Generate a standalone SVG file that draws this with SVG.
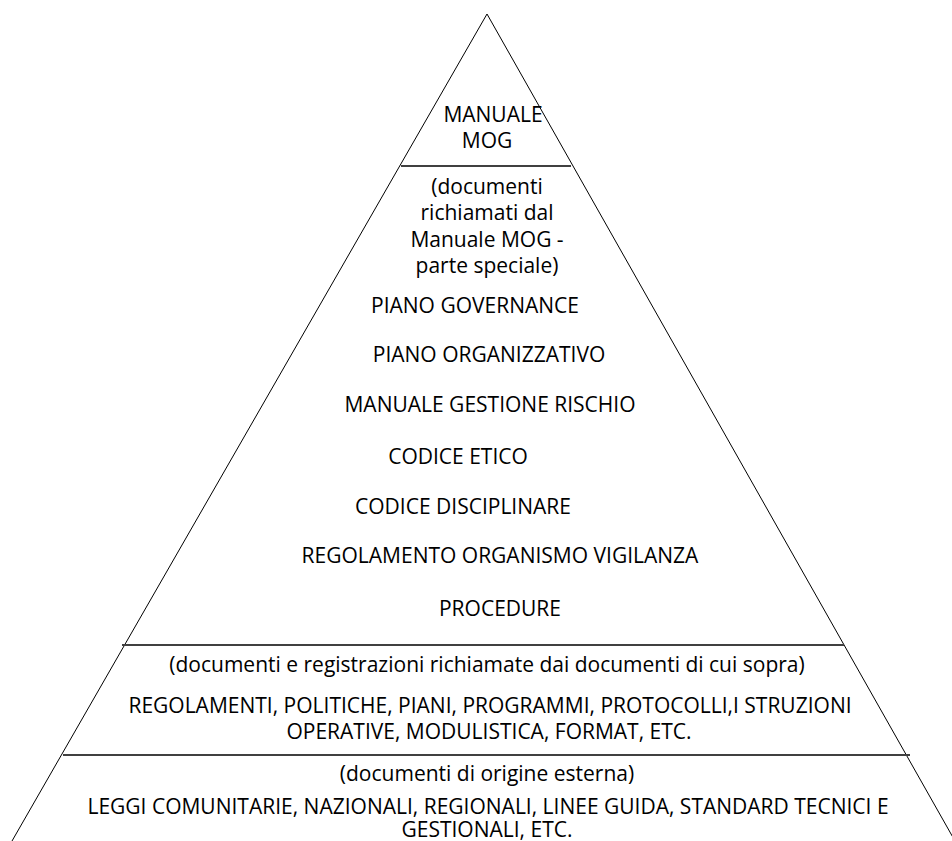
<svg xmlns="http://www.w3.org/2000/svg" width="952" height="841" viewBox="0 0 952 841">
  <style>
    .side { stroke: #000; stroke-width: 1; fill: none; }
    .tier { stroke: #404040; stroke-width: 2; fill: none; }
    text { font-family: "Open Sans", "Liberation Sans", sans-serif; font-size: 21px; fill: #000; text-anchor: middle; }
  </style>
  <rect width="952" height="841" fill="#fff"/>

  <!-- pyramid outline and tier separators -->
  <g id="connectors">
    <line class="side" x1="487" y1="14" x2="12" y2="841"/>
    <line class="side" x1="487" y1="14" x2="955" y2="841"/>
    <line class="tier" x1="401" y1="166" x2="571" y2="166"/>
    <line class="tier" x1="122" y1="645" x2="844" y2="645"/>
    <line class="tier" x1="63" y1="755" x2="910" y2="755"/>
  </g>

  <!-- tier 1: top -->
  <g id="tier-manuale">
    <text x="493" y="122">MANUALE</text>
    <text x="487" y="148">MOG</text>
  </g>

  <!-- tier 2: documents referenced by the manual -->
  <g id="tier-documenti">
    <text x="487" y="194">(documenti</text>
    <text x="487" y="220">richiamati dal</text>
    <text x="487" y="247">Manuale MOG -</text>
    <text x="487" y="273">parte speciale)</text>
    <text x="475" y="313">PIANO GOVERNANCE</text>
    <text x="489" y="362">PIANO ORGANIZZATIVO</text>
    <text x="490" y="412">MANUALE GESTIONE RISCHIO</text>
    <text x="458" y="464">CODICE ETICO</text>
    <text x="463" y="514">CODICE DISCIPLINARE</text>
    <text x="500" y="563">REGOLAMENTO ORGANISMO VIGILANZA</text>
    <text x="500" y="616">PROCEDURE</text>
  </g>

  <!-- tier 3: records and operating documents -->
  <g id="tier-registrazioni">
    <text x="487" y="672">(documenti e registrazioni richiamate dai documenti di cui sopra)</text>
    <text x="490" y="713">REGOLAMENTI, POLITICHE, PIANI, PROGRAMMI, PROTOCOLLI,I STRUZIONI</text>
    <text x="489" y="739">OPERATIVE, MODULISTICA, FORMAT, ETC.</text>
  </g>

  <!-- tier 4: external sources -->
  <g id="tier-esterni">
    <text x="487" y="781">(documenti di origine esterna)</text>
    <text x="488" y="814">LEGGI COMUNITARIE, NAZIONALI, REGIONALI, LINEE GUIDA, STANDARD TECNICI E</text>
    <text x="487" y="837">GESTIONALI, ETC.</text>
  </g>
</svg>
